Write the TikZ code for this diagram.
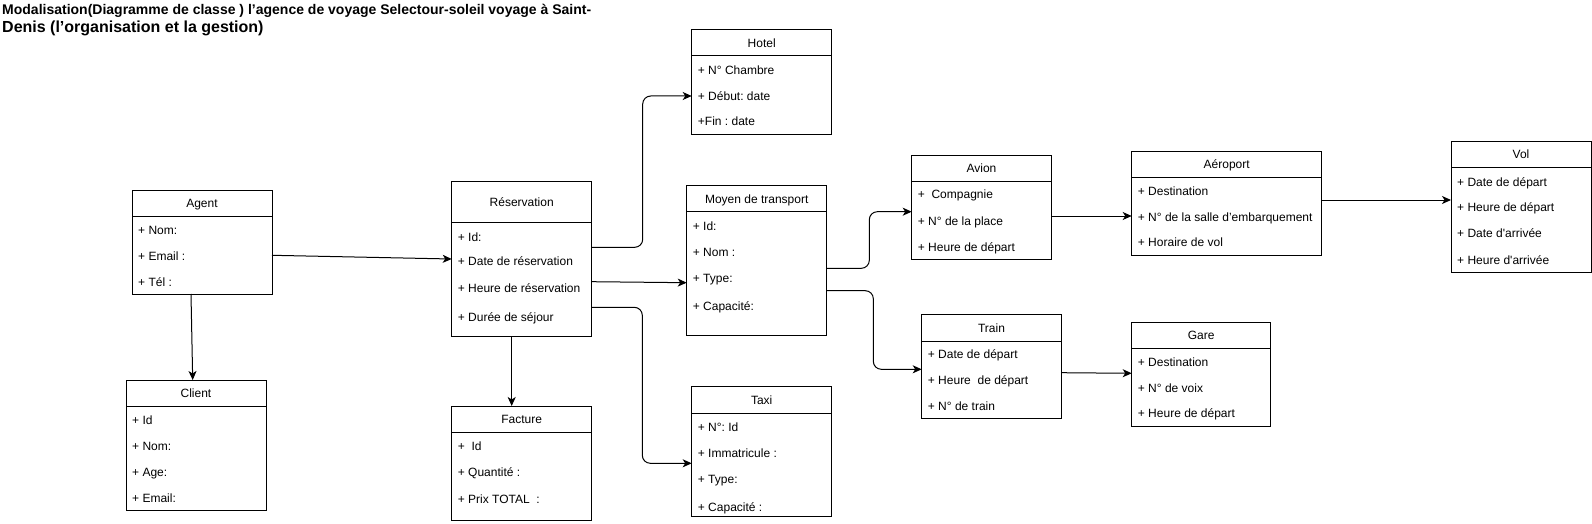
\documentclass[tikz,border=0pt]{standalone}
\usepackage{fontspec}
\setmainfont{Liberation Sans}[Ligatures=TeXOff]
\usetikzlibrary{arrows.meta,calc}
\frenchspacing
\tikzset{
  clsbox/.style={draw, line width=1pt, inner sep=0pt, outer sep=0pt, anchor=north west},
  sepline/.style={line width=1pt},
  clstitle/.style={font=\fontsize{12}{14}\selectfont, inner sep=0pt, anchor=base},
  clsrow/.style={font=\fontsize{12}{14}\selectfont, inner sep=0pt, anchor=base west},
  arr/.style={-{Stealth[length=9pt,width=8pt,inset=2.5pt]}, line width=1pt, rounded corners=8pt},
}
\newcommand\umlbox[7]{%
  \node[clsbox, minimum width=#4pt, minimum height=#5pt] (#1) at (#2,#3) {};
  \draw[sepline] ([yshift=-#6pt]#1.north west) -- ([yshift=-#6pt]#1.north east);
  \node[clstitle] (#1-t) at ([yshift={-(#6/2+4.3)*1pt}]#1.north) {#7};
}
\newcommand\umlrow[4]{\node[clsrow] (#1) at ([xshift=6pt,yshift={-(#3+4.3)*1pt}]#2.north west) {#4};}
\begin{document}
\frenchspacing
\begin{tikzpicture}[x=1pt,y=-1pt]
\fill[white] (0,0) rectangle (1592,524);
\useasboundingbox (0,0) rectangle (1592,524);

% title
\node[inner sep=0pt, anchor=base west, font=\bfseries\fontsize{14}{16}\selectfont] (title1) at (2,15)
  {Modalisation(Diagramme de classe ) l’agence de voyage Selectour-soleil voyage à Saint-};
\node[inner sep=0pt, anchor=base west, font=\bfseries\fontsize{16}{18}\selectfont] (title2) at (2,32.7)
  {Denis (l’organisation et la gestion)};

% Agent
\umlbox{agent}{132}{190}{140}{104}{26}{Agent}
\umlrow{agent-1}{agent}{40}{+ Nom:}
\umlrow{agent-2}{agent}{66}{+ Email :}
\umlrow{agent-3}{agent}{92}{+ Tél :}

% Client
\umlbox{client}{126}{380}{140}{130.6}{26}{Client}
\umlrow{client-1}{client}{40}{+ Id}
\umlrow{client-2}{client}{66}{+ Nom:}
\umlrow{client-3}{client}{92}{+ Age:}
\umlrow{client-4}{client}{118}{+ Email:}

% Reservation
\umlbox{res}{451.7}{181.7}{140}{155}{40.6}{Réservation}
\umlrow{res-1}{res}{55}{+ Id:}
\umlrow{res-2}{res}{79}{+ Date de réservation}
\umlrow{res-3}{res}{106.6}{+ Heure de réservation}
\umlrow{res-4}{res}{135}{+ Durée de séjour}

% Facture
\umlbox{facture}{451.7}{406}{140}{114}{26.7}{Facture}
\umlrow{facture-1}{facture}{39.7}{+~ Id}
\umlrow{facture-2}{facture}{65.7}{+ Quantité :}
\umlrow{facture-3}{facture}{93.3}{+ Prix TOTAL~ :}

% Hotel
\umlbox{hotel}{691.7}{30}{140}{104.3}{26}{Hotel}
\umlrow{hotel-1}{hotel}{40.7}{+ N° Chambre}
\umlrow{hotel-2}{hotel}{66}{+ Début: date}
\umlrow{hotel-3}{hotel}{91.7}{+Fin : date}

% Moyen de transport
\umlbox{moyen}{686.7}{185.7}{140}{150}{26}{Moyen de transport}
\umlrow{moyen-1}{moyen}{40.3}{+ Id:}
\umlrow{moyen-2}{moyen}{66}{+ Nom :}
\umlrow{moyen-3}{moyen}{92.6}{+ Type:}
\umlrow{moyen-4}{moyen}{120.3}{+ Capacité:}

% Taxi
\umlbox{taxi}{691.7}{386.7}{140}{130}{26.6}{Taxi}
\umlrow{taxi-1}{taxi}{40}{+ N°: Id}
\umlrow{taxi-2}{taxi}{66}{+ Immatricule :}
\umlrow{taxi-3}{taxi}{92.6}{+ Type:}
\umlrow{taxi-4}{taxi}{120}{+ Capacité :}

% Avion
\umlbox{avion}{911.7}{155.7}{139.6}{103.3}{25.6}{Avion}
\umlrow{avion-1}{avion}{38.6}{+~ Compagnie}
\umlrow{avion-2}{avion}{65}{+ N° de la place}
\umlrow{avion-3}{avion}{91}{+ Heure de départ}

% Train
\umlbox{train}{921.7}{314.7}{139.6}{104}{26.3}{Train}
\umlrow{train-1}{train}{39.6}{+ Date de départ}
\umlrow{train-2}{train}{65.3}{+ Heure~ de départ}
\umlrow{train-3}{train}{91.3}{+ N° de train}

% Aeroport
\umlbox{aero}{1131.7}{151.7}{190}{103.3}{25.6}{Aéroport}
\umlrow{aero-1}{aero}{39}{+ Destination}
\umlrow{aero-2}{aero}{65}{+ N° de la salle d’embarquement}
\umlrow{aero-3}{aero}{90.6}{+ Horaire de vol}

% Gare
\umlbox{gare}{1131.7}{322}{139}{104}{26}{Gare}
\umlrow{gare-1}{gare}{39.7}{+ Destination}
\umlrow{gare-2}{gare}{65.7}{+ N° de voix}
\umlrow{gare-3}{gare}{91.3}{+ Heure de départ}

% Vol
\umlbox{vol}{1451}{141.7}{140}{131}{25.6}{Vol}
\umlrow{vol-1}{vol}{40}{+ Date de départ}
\umlrow{vol-2}{vol}{65.6}{+ Heure de départ}
\umlrow{vol-3}{vol}{91}{+ Date d'arrivée}
\umlrow{vol-4}{vol}{118.3}{+ Heure d'arrivée}

% connectors
\draw[arr] ([yshift=-65.3pt]agent.north east) -- ([yshift=-77.3pt]res.north west);
\draw[arr] ([xshift=59pt]agent.south west) -- ([xshift=66.7pt]client.north west);
\draw[arr] ([yshift=-65.6pt]res.north east) -- ++(51,0) |- ([yshift=-66pt]hotel.north west);
\draw[arr] ([yshift=-100pt]res.north east) -- ([yshift=-97pt]moyen.north west);
\draw[arr] ([yshift=-125.6pt]res.north east) -- ++(50.6,0) |- ([yshift=-76.6pt]taxi.north west);
\draw[arr] ([xshift=60pt]res.south west) -- ([xshift=60pt]facture.north west);
\draw[arr] ([yshift=-82.6pt]moyen.north east) -- ++(42.6,0) |- ([yshift=-56pt]avion.north west);
\draw[arr] ([yshift=-105pt]moyen.north east) -- ++(46.6,0) |- ([yshift=-54.6pt]train.north west);
\draw[arr] ([yshift=-60.3pt]avion.north east) -- ([yshift=-64.3pt]aero.north west);
\draw[arr] ([yshift=-58pt]train.north east) -- ([yshift=-51.3pt]gare.north west);
\draw[arr] ([yshift=-48.3pt]aero.north east) -- ([yshift=-58.3pt]vol.north west);
\end{tikzpicture}
\end{document}
